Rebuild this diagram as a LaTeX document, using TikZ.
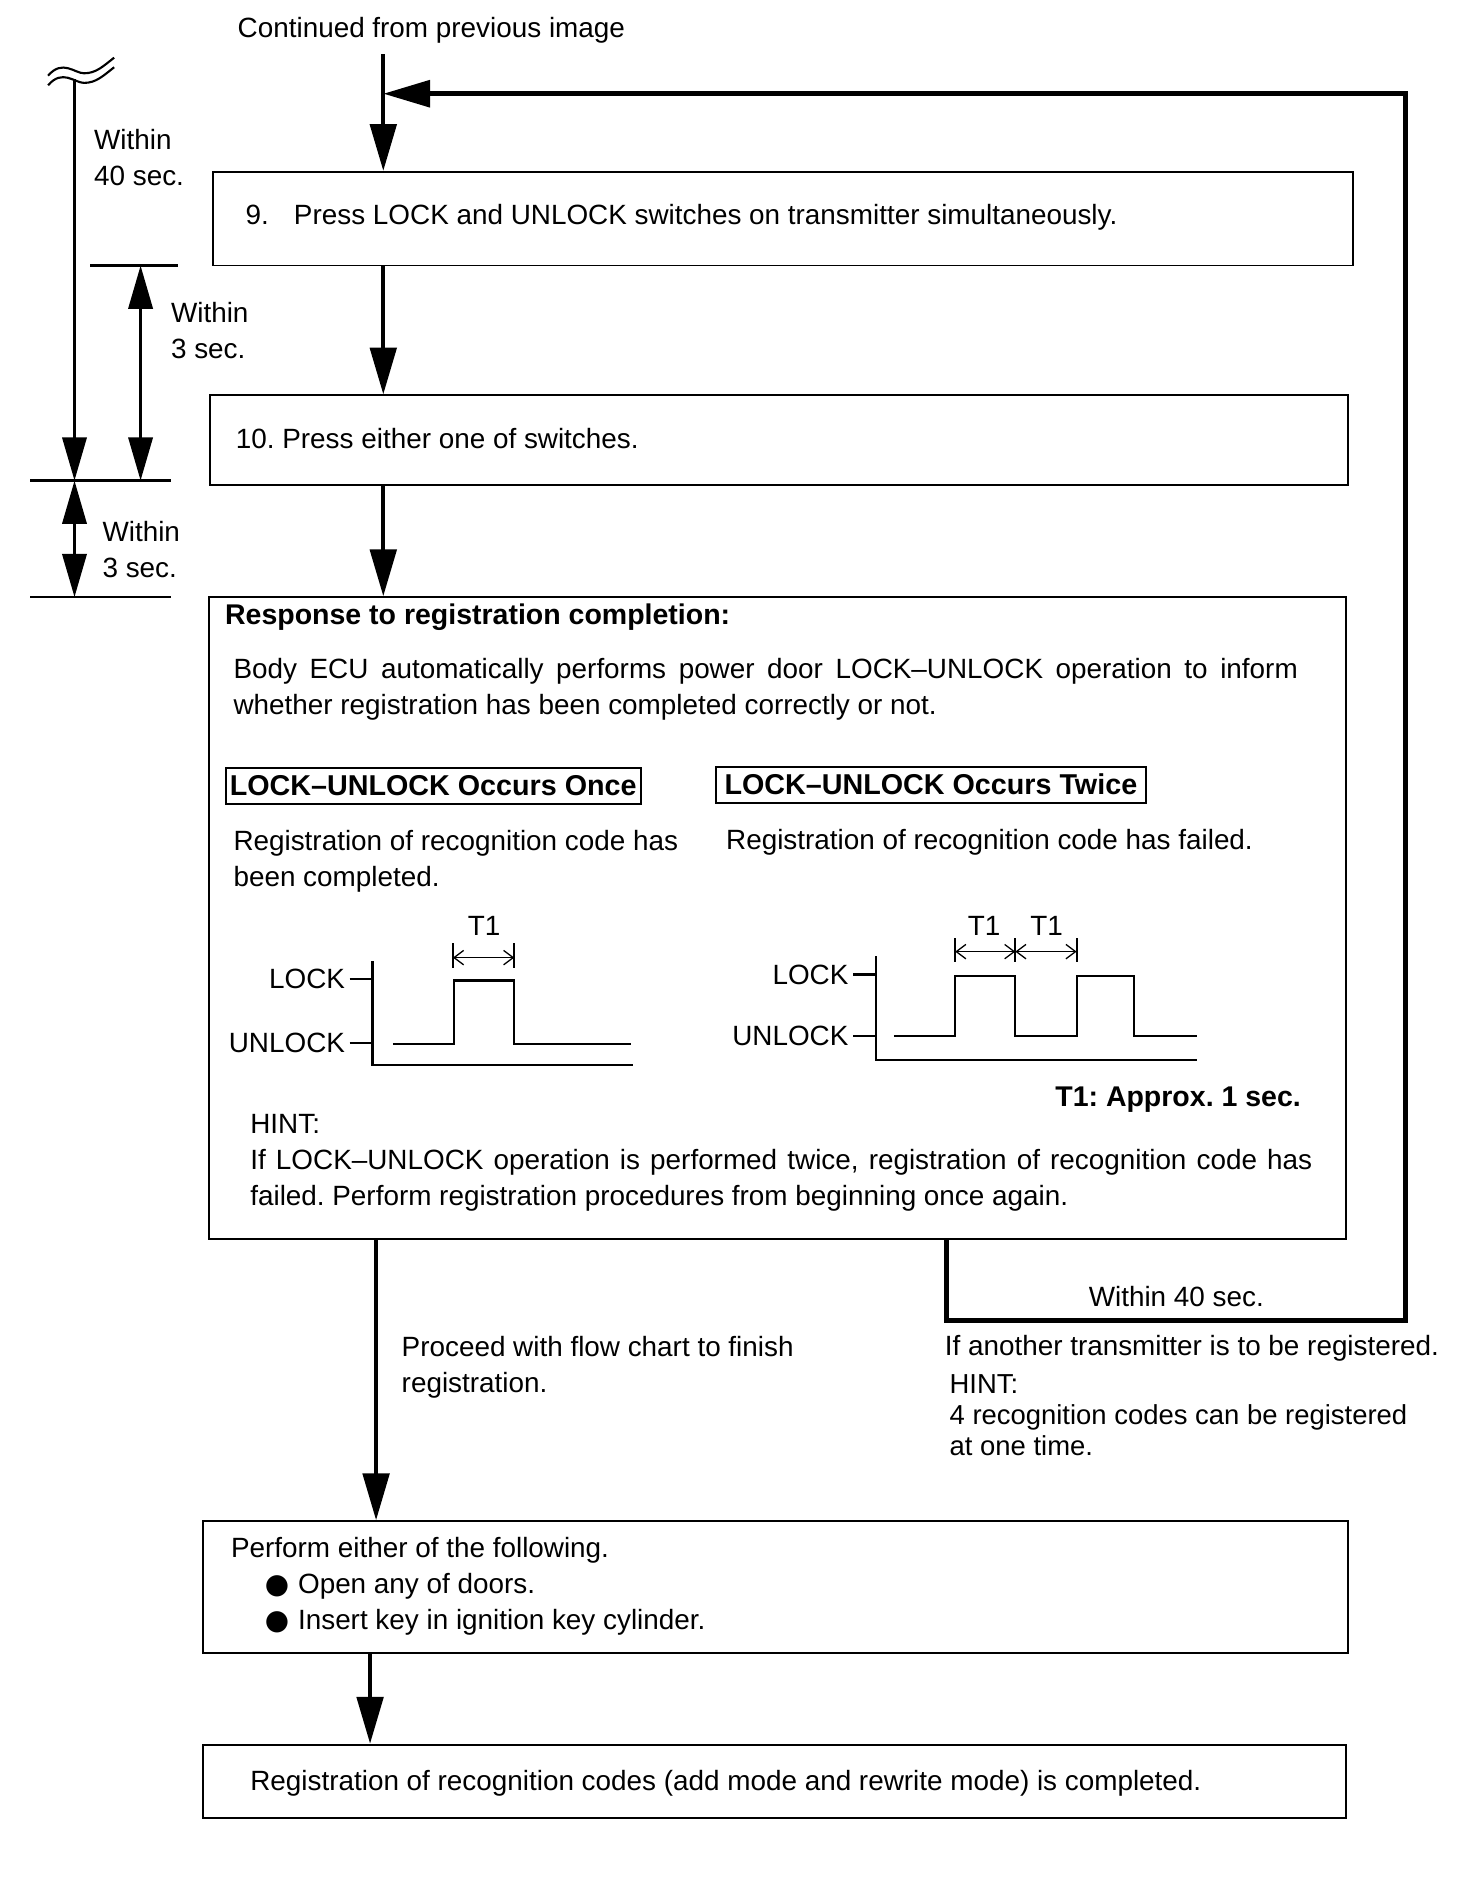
\documentclass[tikz,border=0pt]{standalone}
\usepackage{fontspec}
\setmainfont{Liberation Sans}
\newfontfamily\symfont{DejaVu Sans}
\usetikzlibrary{positioning,arrows.meta,fit}

\begin{document}
\frenchspacing
\begin{tikzpicture}[
  x=0.02cm, y=-0.02cm,
  font=\fontsize{13.2}{17}\selectfont,
  stepbox/.style={rectangle, draw=black, line width=0.9pt, inner sep=0pt},
  txt/.style={anchor=west, inner sep=0pt, align=left},
  bold/.style={txt, font=\fontsize{13.5}{17}\selectfont\bfseries},
  tag/.style={rectangle, draw=black, line width=0.9pt, anchor=west,
    font=\fontsize{13.6}{17}\selectfont\bfseries, inner xsep=2pt, minimum height=0.6cm},
  flow/.style={line width=1.9pt, -{Triangle[length=0.78cm, width=0.44cm]}},
  loopline/.style={line width=2.4pt, -{Triangle[length=0.78cm, width=0.44cm]}},
  dimarrow/.style={line width=1.7pt,
    {Triangle[length=0.72cm, width=0.4cm]}-{Triangle[length=0.72cm, width=0.4cm]}},
  dimline/.style={line width=1.1pt},
  wavy/.style={line width=1pt},
  sig/.style={line width=1pt},
  tbar/.style={line width=0.6pt,
    {Straight Barb[length=1.6mm, width=2.4mm]}-{Straight Barb[length=1.6mm, width=2.4mm]}}
]
\useasboundingbox (0,0) rectangle (1225,1568);

% --- Boxes ---
\node[stepbox, fit={(177,143) (1126,221)}] (s9) {};
\node[stepbox, fit={(175,329) (1122,404)}] (s10) {};
\node[stepbox, fit={(174,497) (1120,1031)}] (resp) {};
\node[stepbox, fit={(169,1266) (1122,1376)}] (perf) {};
\node[stepbox, fit={(169,1452) (1120,1513)}] (done) {};

\node (cont) at (359,25) {Continued from previous image};
\node[txt] (s9txt) at (204,181) {9.\hspace{0.42cm}Press LOCK and UNLOCK switches on transmitter simultaneously.};
\node[txt] (s10txt) at (196,365) {10. Press either one of switches.};

% --- Main flow ---
\coordinate (spine) at (319,45);
\coordinate (outx) at (313,1031);
\coordinate (lastx) at (308,1376);
\draw[flow] (spine) -- (s9.north -| spine);
\draw[flow] (s9.south -| spine) -- (s10.north -| spine);
\draw[flow] (s10.south -| spine) -- (resp.north -| spine);
\draw[flow] (resp.south -| outx) -- (perf.north -| outx);
\draw[flow] (perf.south -| lastx) -- (done.north -| lastx);

% --- Return loop ---
\coordinate (lp1) at (788,1099);
\coordinate (lp2) at (1170,1099);
\coordinate (lp3) at (1170,78);
\draw[loopline] (resp.south -| lp1) -- (lp1)
  -- node[above, inner sep=5.5pt] (w40b) {Within 40 sec.} (lp2)
  -- (lp3) -- (lp3 -| spine);

% --- Time marks ---
\coordinate (m9l) at (75,221);   \coordinate (m9r) at (148,221);
\coordinate (m10l) at (25,400);  \coordinate (m10r) at (142,400);
\coordinate (mrl) at (25,497);   \coordinate (mrr) at (142,497);
\coordinate (c40) at (62,66);
\coordinate (c3) at (117,221);
\draw[dimline] (m9l) -- (m9r);
\draw[dimline] (m10l) -- (m10r);
\draw[dimline] (mrl) -- (mrr);
\draw[wavy] (40,63) .. controls (52,49) and (62,61) .. (70,61) .. controls (80,61) and (86,55) .. (95,48);
\draw[wavy] (40,71) .. controls (52,57) and (62,69) .. (70,69) .. controls (80,69) and (86,63) .. (95,56);
\draw[line width=1.7pt, -{Triangle[length=0.72cm, width=0.4cm]}] (c40) -- (c40 |- m10l);
\draw[dimarrow] (c3) -- (c3 |- m10l);
\draw[dimarrow] (c40 |- m10l) -- (c40 |- mrl);
\node[txt] (w40) at (78,131) {Within\\40 sec.};
\node[txt] (w3a) at (142,275) {Within\\3 sec.};
\node[txt] (w3b) at (85,457) {Within\\3 sec.};

% --- Response box ---
\node[bold] (resptitle) at (187,514) {Response to registration completion:};
\node[txt, text width=17.72cm, align=justify] (body) at (194,574)
  {Body ECU automatically performs power door LOCK--UNLOCK operation to inform\linebreak
   whether registration has been completed correctly or not.};
\node[tag, minimum width=6.86cm] (once) at (187,654) {LOCK--UNLOCK Occurs Once};
\node[tag, minimum width=7.16cm] (twice) at (595,653) {LOCK--UNLOCK Occurs Twice};
\node[txt] (oncetxt) at (194,717) {Registration of recognition code has\\been completed.};
\node[txt] (twicetxt) at (604,701) {Registration of recognition code has failed.};

% once
\node[anchor=east, inner sep=2pt] (lk1) at (291,815) {LOCK};
\node[anchor=east, inner sep=2pt] (ul1) at (291,868) {UNLOCK};
\draw[sig] (lk1.east) -- (310,815);
\draw[sig] (ul1.east) -- (310,868);
\draw[sig] (310,800) -- (310,886) -- (527,886);
\draw[sig] (327,869) -| (378,816) -| (428,869) -- (525,869);
\draw[sig] (377,785) -- (377,806);
\draw[sig] (428,785) -- (428,806);
\draw[tbar] (377,797) -- (428,797);
\node (t1a) at (403,771) {T1};

% twice
\node[anchor=east, inner sep=2pt] (lk2) at (710,811) {LOCK};
\node[anchor=east, inner sep=2pt] (ul2) at (710,862) {UNLOCK};
\draw[sig] (lk2.east) -- (729,811);
\draw[sig] (ul2.east) -- (729,862);
\draw[sig] (729,796) -- (729,882) -- (996,882);
\draw[sig] (744,862) -| (795,812) -| (845,862) -| (896,812) -| (944,862) -- (996,862);
\foreach \tx in {795,845,896} \draw[sig] (\tx,781) -- (\tx,801);
\draw[tbar] (795,792) -- (845,792);
\draw[tbar] (845,792) -- (896,792);
\node (t1b) at (819,771) {T1};
\node (t1c) at (871,771) {T1};

\node[bold, anchor=east] (approx) at (1083,915) {T1: Approx. 1 sec.};
\node[txt] (hint1) at (208,935) {HINT:};
\node[txt, text width=17.68cm, align=justify] (hint1txt) at (208,982)
  {If LOCK--UNLOCK operation is performed twice, registration of recognition code has\linebreak
   failed. Perform registration procedures from beginning once again.};

% --- Below ---
\node[txt] (proceed) at (334,1138) {Proceed with flow chart to finish\\registration.};
\node[txt] (another) at (786,1122) {If another transmitter is to be registered.};
\node[txt, font=\fontsize{13}{14.7}\selectfont] (hint2) at (790,1178)
  {HINT:\\4 recognition codes can be registered\\at one time.};

\node[txt] (perftxt) at (192,1320) {Perform either of the following.\\
  \hspace{0.56cm}{\symfont ●}\hspace{0.15cm}Open any of doors.\\
  \hspace{0.56cm}{\symfont ●}\hspace{0.15cm}Insert key in ignition key cylinder.};
\node[txt] (donetxt) at (208,1484) {Registration of recognition codes (add mode and rewrite mode) is completed.};

\end{tikzpicture}
\end{document}
